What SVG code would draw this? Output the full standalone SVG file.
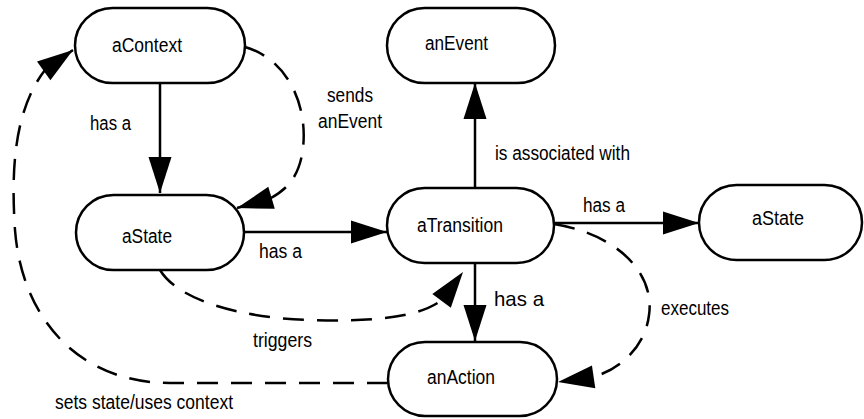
<svg xmlns="http://www.w3.org/2000/svg" width="864" height="419" viewBox="0 0 864 419">
  <style>
    .node rect { fill: #ffffff; stroke: #000000; stroke-width: 2.5; }
    .node text, .label { font-family: "Liberation Sans", Arial, Helvetica, sans-serif; font-size: 20px; fill: #000000; }
    .label.big { font-size: 21px; }
    .edge { fill: none; stroke: #000000; stroke-width: 2.5; marker-end: url(#arrow); }
    .dashed { stroke-dasharray: 21 13; }
  </style>
  <defs>
    <marker id="arrow" markerUnits="userSpaceOnUse" markerWidth="38" markerHeight="26" refX="36" refY="12.5" orient="auto" overflow="visible">
      <path d="M0,1 L36,12.5 L0,24 Z" fill="#000000" stroke="none"/>
    </marker>
  </defs>

  <rect width="864" height="419" fill="#ffffff"/>

  <!-- nodes -->
  <g id="aContext" class="node">
    <rect x="75" y="8" width="170" height="75" rx="37.5" ry="37.5"/>
    <text x="112" y="52" textLength="70" lengthAdjust="spacingAndGlyphs">aContext</text>
  </g>
  <g id="aState-source" class="node">
    <rect x="76" y="195" width="168" height="75" rx="37.5" ry="37.5"/>
    <text x="122" y="243" textLength="50" lengthAdjust="spacingAndGlyphs">aState</text>
  </g>
  <g id="anEvent" class="node">
    <rect x="387" y="8" width="168" height="75" rx="37.5" ry="37.5"/>
    <text x="425" y="50" textLength="63" lengthAdjust="spacingAndGlyphs">anEvent</text>
  </g>
  <g id="aTransition" class="node">
    <rect x="387" y="188" width="167" height="75" rx="37.5" ry="37.5"/>
    <text x="417" y="232" textLength="86" lengthAdjust="spacingAndGlyphs">aTransition</text>
  </g>
  <g id="anAction" class="node">
    <rect x="388" y="342" width="169" height="74" rx="37" ry="37"/>
    <text x="427" y="384" textLength="68" lengthAdjust="spacingAndGlyphs">anAction</text>
  </g>
  <g id="aState-target" class="node">
    <rect x="699" y="185" width="163" height="75" rx="37.5" ry="37.5"/>
    <text x="752" y="225" textLength="52" lengthAdjust="spacingAndGlyphs">aState</text>
  </g>

  <!-- connectors -->
  <g id="connectors">
    <path class="edge" d="M160,83 L160,193"/>
    <path class="edge" d="M244,232 L387,232"/>
    <path class="edge" d="M475,188 L475,83"/>
    <path class="edge" d="M475,263 L475,341"/>
    <path class="edge" d="M554,223 L699,223"/>
    <path class="edge dashed" d="M245,47 C290,60 310,110 302,155 C297,180 285,190 271,198 L237,208"/>
    <path class="edge dashed" d="M160,270 C178,300 240,318 310,320 C370,322 420,318 443,299 L463,272"/>
    <path class="edge dashed" d="M554,224 C620,235 655,275 649,315 C645,350 615,372 592,377 L558,382"/>
    <path class="edge dashed" d="M388,383 L170,383 C80,383 22,320 15,230 C11,170 14,110 45,70 L73,50"/>

    <text class="label" x="90" y="130" textLength="41" lengthAdjust="spacingAndGlyphs">has a</text>
    <text class="label" x="327" y="102" textLength="46" lengthAdjust="spacingAndGlyphs">sends</text>
    <text class="label" x="318" y="128" textLength="64" lengthAdjust="spacingAndGlyphs">anEvent</text>
    <text class="label" x="495" y="160" textLength="135" lengthAdjust="spacingAndGlyphs">is associated with</text>
    <text class="label" x="259" y="258" textLength="43" lengthAdjust="spacingAndGlyphs">has a</text>
    <text class="label" x="583" y="212" textLength="42" lengthAdjust="spacingAndGlyphs">has a</text>
    <text class="label big" x="494" y="306" textLength="50" lengthAdjust="spacingAndGlyphs">has a</text>
    <text class="label" x="253" y="347" textLength="59" lengthAdjust="spacingAndGlyphs">triggers</text>
    <text class="label" x="661" y="315" textLength="68" lengthAdjust="spacingAndGlyphs">executes</text>
    <text class="label" x="55" y="409" textLength="178" lengthAdjust="spacingAndGlyphs">sets state/uses context</text>
  </g>
</svg>
